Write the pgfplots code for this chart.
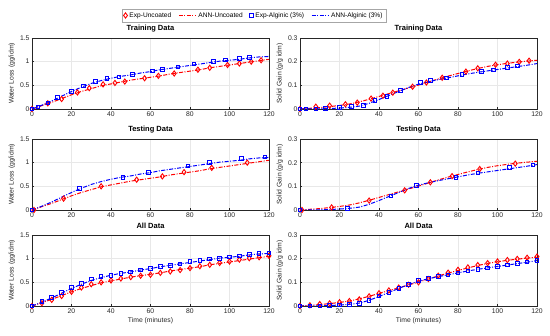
\documentclass[border=0pt]{standalone}
\usepackage{pgfplots}
\pgfplotsset{compat=1.18}
\usepackage{pgfplotstable}
\usepackage{fontspec}
\setmainfont{Liberation Sans}

\pgfplotstableread{
t wl sg
0 0 0
8 0.12 0.010
15 0.21 0.014
23 0.35 0.020
29 0.44 0.027
36 0.52 0.044
42 0.55 0.056
47 0.58 0.069
57 0.65 0.094
64 0.70 0.112
72 0.75 0.132
84 0.83 0.158
90 0.87 0.172
99 0.93 0.187
105 0.96 0.192
111 1.00 0.199
116 1.03 0.204
}\trainU
\pgfplotstableread{
t wl sg
0 0 0
3 0.04 0
8 0.13 0.001
13 0.24 0.003
20 0.37 0.007
26 0.49 0.010
32 0.58 0.015
38 0.64 0.035
44 0.68 0.053
51 0.73 0.079
61 0.80 0.113
66 0.84 0.120
74 0.89 0.132
82 0.95 0.145
92 1.01 0.158
98 1.04 0.165
105 1.07 0.175
110 1.09 0.182
}\trainA
\pgfplotstableread{
t wl sg
1 0 0
16 0.24 0.011
35 0.50 0.040
53 0.64 0.083
66 0.71 0.117
77 0.80 0.143
91 0.89 0.173
109 1.00 0.196
}\testU
\pgfplotstableread{
t wl sg
0 0 0
24 0.45 0.006
46 0.69 0.060
59 0.79 0.104
79 0.93 0.137
90 1.01 0.156
106 1.09 0.181
118 1.12 0.190
}\testA
\pgfplotstableread{
t wl sg
0 0 0
5 0.06 0.003
10 0.13 0.008
15 0.21 0.011
20 0.30 0.016
25 0.39 0.021
30 0.46 0.028
35 0.50 0.041
40 0.54 0.054
45 0.58 0.066
50 0.61 0.078
55 0.64 0.090
60 0.66 0.100
65 0.70 0.114
70 0.73 0.128
75 0.76 0.141
80 0.80 0.153
85 0.84 0.163
90 0.87 0.173
95 0.91 0.181
100 0.94 0.188
105 0.98 0.194
110 1.01 0.199
115 1.03 0.204
120 1.06 0.209
}\allU
\pgfplotstableread{
t wl sg
0 0 0
5 0.09 0
10 0.18 0.001
15 0.28 0.002
20 0.39 0.004
25 0.48 0.007
30 0.57 0.011
35 0.62 0.024
40 0.65 0.042
45 0.69 0.058
50 0.72 0.073
55 0.76 0.092
60 0.79 0.107
65 0.83 0.116
70 0.86 0.124
75 0.89 0.132
80 0.94 0.140
85 0.96 0.148
90 0.99 0.155
95 1.01 0.160
100 1.04 0.166
105 1.06 0.173
110 1.09 0.180
115 1.11 0.186
120 1.12 0.193
}\allA
\pgfplotstableread{
t wlu wla sgu sga
0 0 0 0 0
5 0.07 0.08 0.003 0
10 0.14 0.17 0.006 0.001
15 0.22 0.27 0.010 0.002
20 0.30 0.37 0.015 0.004
25 0.37 0.46 0.021 0.007
30 0.43 0.54 0.030 0.012
35 0.49 0.60 0.041 0.024
40 0.53 0.65 0.053 0.040
45 0.57 0.69 0.065 0.057
50 0.61 0.72 0.077 0.074
55 0.64 0.76 0.089 0.091
60 0.67 0.79 0.101 0.105
65 0.70 0.83 0.114 0.115
70 0.74 0.86 0.127 0.124
75 0.77 0.89 0.139 0.132
80 0.80 0.92 0.150 0.140
85 0.83 0.95 0.161 0.148
90 0.87 0.98 0.171 0.155
95 0.90 1.01 0.180 0.161
100 0.93 1.03 0.187 0.167
105 0.96 1.05 0.193 0.173
110 0.99 1.08 0.198 0.179
115 1.02 1.10 0.202 0.185
120 1.05 1.11 0.206 0.192
}\ann

\definecolor{axgray}{gray}{0.15}
\pgfplotsset{
  myax/.style={
    scale only axis, width=237pt, height=71pt,
    xmin=0, xmax=120, xtick={0,20,...,120},
    grid=major, major grid style={gray!18, line width=0.4pt},
    axis line style={axgray, line width=0.4pt},
    tick style={axgray, line width=0.4pt}, tick align=inside,
    major tick length=2pt,
    ticklabel style={font=\fontsize{6.8}{7}\selectfont, text=axgray},
    /pgf/number format/assume math mode=true,
    xtick pos=bottom, ytick pos=left,
    label style={font=\fontsize{6.8}{7}\selectfont, text=axgray},
    title style={font=\fontsize{7.5}{8}\selectfont\bfseries, yshift=-3.5pt},
    xticklabel style={yshift=1pt},
    yticklabel style={xshift=1pt},
    ylabel style={yshift=-2pt},
  },
  wl/.style={myax, ymin=0, ymax=1.5, ytick={0,0.5,1,1.5}, ylabel={Water Loss (gg/idm)}},
  sg/.style={myax, ymin=0, ymax=0.3, ytick={0,0.1,0.2,0.3}, ylabel={Solid Gain (g/g idm)}},
  expu/.style={red, only marks, mark=diamond, mark size=2.6pt, mark options={solid, line width=0.9pt}},
  expa/.style={blue, only marks, mark=square, mark size=1.8pt, mark options={solid, line width=0.9pt}},
  annu/.style={red, no marks, line width=1pt, dash pattern=on 4pt off 1.5pt on 1pt off 1.5pt},
  anna/.style={blue, no marks, line width=1pt, dash pattern=on 4pt off 1.5pt on 1pt off 1.5pt},
}

\begin{document}
\begin{tikzpicture}
\path (0,0) rectangle (550pt,336pt);
% legend holder
\begin{axis}[at={(32pt,227pt)}, anchor=south west, scale only axis, width=237pt, height=71pt,
  hide axis, xmin=0, xmax=1, ymin=0, ymax=1,
  legend columns=4,
  legend style={at={(0.937,1.225)}, anchor=south, draw=gray!70, fill=white,
    font=\fontsize{6.6}{7}\selectfont, inner sep=1.2pt, row sep=-1pt,
    /tikz/every even column/.append style={column sep=5pt}},
  ]
\addlegendimage{only marks, mark=diamond, mark size=2.6pt, color=red, mark options={solid, line width=0.9pt, draw=red}}
\addlegendentry{Exp-Uncoated}
\addlegendimage{color=red, line width=1pt, dash pattern=on 4pt off 1.5pt on 1pt off 1.5pt}
\addlegendentry{ANN-Uncoated}
\addlegendimage{only marks, mark=square, mark size=1.8pt, color=blue, mark options={solid, line width=0.9pt, draw=blue}}
\addlegendentry{Exp-Alginic (3\%)}
\addlegendimage{color=blue, line width=1pt, dash pattern=on 4pt off 1.5pt on 1pt off 1.5pt}
\addlegendentry{ANN-Alginic (3\%)}
\end{axis}
% Row 1
\begin{axis}[wl, at={(32pt,227pt)}, anchor=south west, title={Training Data}]
\addplot[annu] table[x=t, y=wlu] {\ann};
\addplot[anna] table[x=t, y=wla] {\ann};
\addplot[expu] table[x=t, y=wl] {\trainU};
\addplot[expa] table[x=t, y=wl] {\trainA};
\end{axis}
\begin{axis}[sg, at={(300pt,227pt)}, anchor=south west, title={Training Data}]
\addplot[annu] table[x=t, y=sgu] {\ann};
\addplot[anna] table[x=t, y=sga] {\ann};
\addplot[expu] table[x=t, y=sg] {\trainU};
\addplot[expa] table[x=t, y=sg] {\trainA};
\end{axis}
% Row 2
\begin{axis}[wl, at={(32pt,126pt)}, anchor=south west, title={Testing Data}]
\addplot[annu] table[x=t, y=wlu] {\ann};
\addplot[anna] table[x=t, y=wla] {\ann};
\addplot[expu] table[x=t, y=wl] {\testU};
\addplot[expa] table[x=t, y=wl] {\testA};
\end{axis}
\begin{axis}[sg, at={(300pt,126pt)}, anchor=south west, title={Testing Data}]
\addplot[annu] table[x=t, y=sgu] {\ann};
\addplot[anna] table[x=t, y=sga] {\ann};
\addplot[expu] table[x=t, y=sg] {\testU};
\addplot[expa] table[x=t, y=sg] {\testA};
\end{axis}
% Row 3
\begin{axis}[wl, at={(32pt,30pt)}, anchor=south west, title={All Data}, xlabel={Time (minutes)}, xlabel style={yshift=3pt}]
\addplot[annu] table[x=t, y=wlu] {\ann};
\addplot[anna] table[x=t, y=wla] {\ann};
\addplot[expu] table[x=t, y=wl] {\allU};
\addplot[expa] table[x=t, y=wl] {\allA};
\end{axis}
\begin{axis}[sg, at={(300pt,30pt)}, anchor=south west, title={All Data}, xlabel={Time (minutes)}, xlabel style={yshift=3pt}]
\addplot[annu] table[x=t, y=sgu] {\ann};
\addplot[anna] table[x=t, y=sga] {\ann};
\addplot[expu] table[x=t, y=sg] {\allU};
\addplot[expa] table[x=t, y=sg] {\allA};
\end{axis}
\end{tikzpicture}
\end{document}
